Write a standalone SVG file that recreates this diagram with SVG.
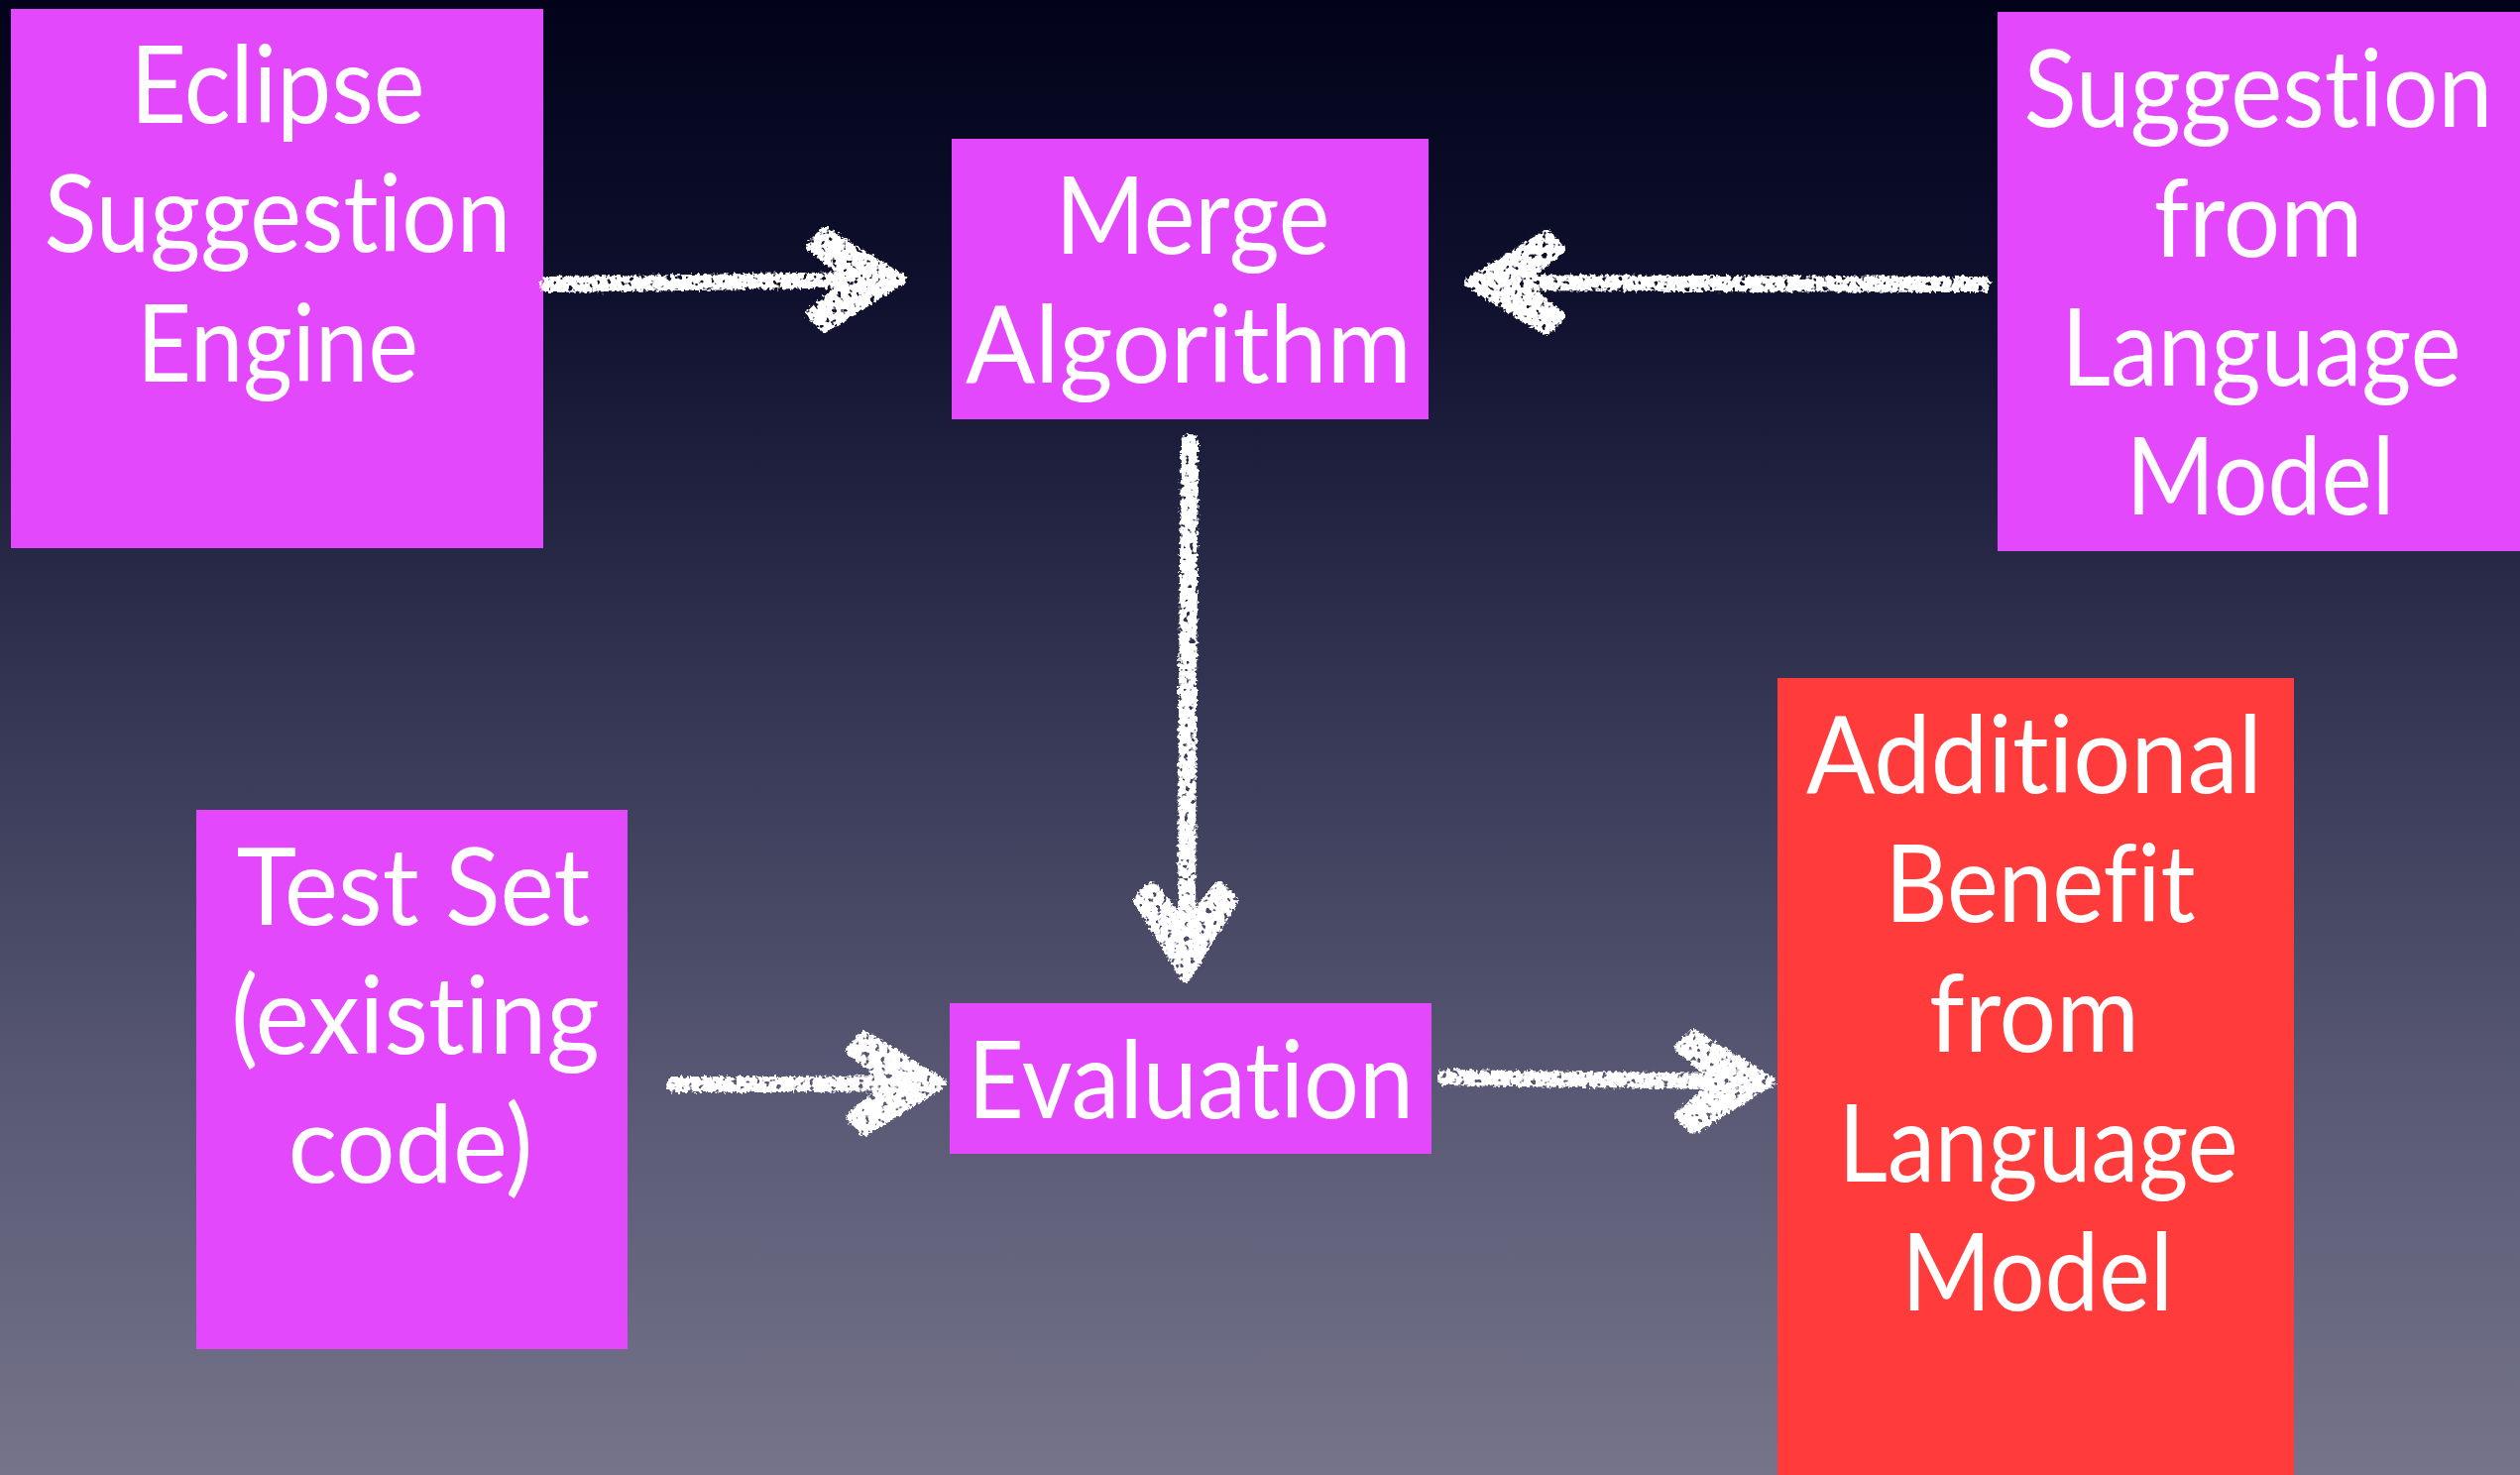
<svg xmlns="http://www.w3.org/2000/svg" width="2542" height="1488" viewBox="0 0 2542 1488">
<defs>
<linearGradient id="bg" x1="0" y1="0" x2="0" y2="1">
<stop offset="0" stop-color="#02021a"/>
<stop offset="0.2" stop-color="#0f102d"/>
<stop offset="0.5" stop-color="#383956"/>
<stop offset="0.75" stop-color="#5a5a76"/>
<stop offset="1" stop-color="#75748a"/>
</linearGradient>
<filter id="chalk" x="-10%" y="-10%" width="120%" height="120%">
<feTurbulence type="fractalNoise" baseFrequency="0.3" numOctaves="2" seed="4" result="n"/>
<feDisplacementMap in="SourceGraphic" in2="n" scale="7" xChannelSelector="R" yChannelSelector="G" result="d"/>
<feTurbulence type="fractalNoise" baseFrequency="0.18" numOctaves="2" seed="9" result="n2"/>
<feColorMatrix in="n2" type="matrix" values="0 0 0 0 1 0 0 0 0 1 0 0 0 0 1 0 0 0 -10 7.3" result="holes"/>
<feComposite in="d" in2="holes" operator="in"/>
</filter>
<path id="ah" d="M0 0 L-78 -48 L-92 -34 L-50 0 L-92 34 L-78 48 Z" fill="#ffffff" stroke="#ffffff" stroke-width="10" stroke-linejoin="round"/>
<style>
.box{fill:#e448fc}
.red{fill:#ff3b3b}
.t{font-family:"Lato","Liberation Sans",sans-serif;font-size:108px;fill:#ffffff;text-anchor:middle;font-variant-ligatures:none;font-feature-settings:"liga" 0}
.shaft{fill:none;stroke:#ffffff;stroke-width:16;stroke-linecap:round}
</style>
</defs>
<rect x="0" y="0" width="2542" height="1488" fill="url(#bg)"/>

<g id="eclipse">
<rect class="box" x="11" y="9" width="537" height="544"/>
<text class="t" x="280" y="124" textLength="297" lengthAdjust="spacingAndGlyphs">Eclipse</text>
<text class="t" x="280" y="254" textLength="471" lengthAdjust="spacingAndGlyphs">Suggestion</text>
<text class="t" x="280" y="385" textLength="284" lengthAdjust="spacingAndGlyphs">Engine</text>
</g>

<g id="merge">
<rect class="box" x="960" y="140" width="481" height="283"/>
<text class="t" x="1203" y="256" textLength="277" lengthAdjust="spacingAndGlyphs">Merge</text>
<text class="t" x="1199" y="386" textLength="450" lengthAdjust="spacingAndGlyphs">Algorithm</text>
</g>

<g id="suggestion-lm">
<rect class="box" x="2015" y="12" width="527" height="544"/>
<text class="t" x="2278" y="128" textLength="473" lengthAdjust="spacingAndGlyphs">Suggestion</text>
<text class="t" x="2278" y="259" textLength="211" lengthAdjust="spacingAndGlyphs">from</text>
<text class="t" x="2281" y="389" textLength="403" lengthAdjust="spacingAndGlyphs">Language</text>
<text class="t" x="2280" y="519" textLength="271" lengthAdjust="spacingAndGlyphs">Model</text>
</g>

<g id="testset">
<rect class="box" x="198" y="817" width="435" height="544"/>
<text class="t" x="417" y="933" textLength="357" lengthAdjust="spacingAndGlyphs">Test Set</text>
<text class="t" x="419" y="1063" textLength="372" lengthAdjust="spacingAndGlyphs">(existing</text>
<text class="t" x="414" y="1193" textLength="247" lengthAdjust="spacingAndGlyphs">code)</text>
</g>

<g id="evaluation">
<rect class="box" x="958" y="1012" width="486" height="152"/>
<text class="t" x="1201" y="1128" textLength="450" lengthAdjust="spacingAndGlyphs">Evaluation</text>
</g>

<g id="additional">
<rect class="red" x="1793" y="684" width="521" height="810"/>
<text class="t" x="2052" y="800" textLength="460" lengthAdjust="spacingAndGlyphs">Additional</text>
<text class="t" x="2058" y="930" textLength="313" lengthAdjust="spacingAndGlyphs">Benefit</text>
<text class="t" x="2052" y="1061" textLength="212" lengthAdjust="spacingAndGlyphs">from</text>
<text class="t" x="2056" y="1192" textLength="403" lengthAdjust="spacingAndGlyphs">Language</text>
<text class="t" x="2055" y="1322" textLength="274" lengthAdjust="spacingAndGlyphs">Model</text>
</g>

<g id="connectors" filter="url(#chalk)">
<path class="shaft" d="M552 287 L700 285 L870 282"/>
<use href="#ah" transform="translate(910 282)"/>

<path class="shaft" d="M2000 287 L1700 286 L1520 285"/>
<use href="#ah" transform="translate(1482 285) rotate(180)"/>

<path class="shaft" d="M1200 446 L1198 700 L1197 950" style="stroke-width:18"/>
<use href="#ah" transform="translate(1196 986) rotate(90)"/>

<path class="shaft" d="M680 1094 L800 1094 L910 1093"/>
<use href="#ah" transform="translate(950 1093)"/>

<path class="shaft" d="M1458 1087 L1600 1089 L1750 1091"/>
<use href="#ah" transform="translate(1786 1091)"/>
</g>
</svg>
